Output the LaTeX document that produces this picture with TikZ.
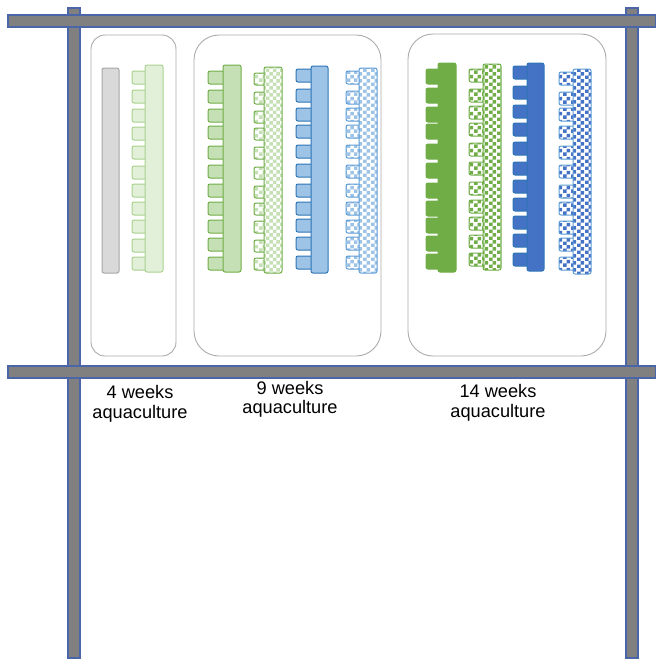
\documentclass[tikz,border=0pt]{standalone}
\usepackage{fontspec}
\setmainfont{Liberation Sans}
\usetikzlibrary{patterns}

% coarse checkerboard tile (3.7pt squares)
\pgfdeclarepatternformonly{bigchecker}{\pgfpointorigin}{\pgfqpoint{7.4pt}{7.4pt}}{\pgfqpoint{7.4pt}{7.4pt}}{%
  \pgfpathrectangle{\pgfpointorigin}{\pgfqpoint{3.7pt}{3.7pt}}%
  \pgfpathrectangle{\pgfqpoint{3.7pt}{3.7pt}}{\pgfqpoint{3.7pt}{3.7pt}}%
  \pgfusepath{fill}}

\definecolor{postfill}{HTML}{808080}
\definecolor{postline}{HTML}{4A66A8}
\definecolor{boxline}{HTML}{ABABAB}
\definecolor{greylight}{HTML}{D9D9D9}
\definecolor{greyline}{HTML}{A6A6A6}
\definecolor{grpale}{HTML}{E2F0D9}
\definecolor{grpaleline}{HTML}{A9D18E}
\definecolor{grmid}{HTML}{C5E0B4}
\definecolor{grdark}{HTML}{70AD47}
\definecolor{blmid}{HTML}{9DC3E6}
\definecolor{blline}{HTML}{2E75B6}
\definecolor{bllight}{HTML}{5B9BD5}
\definecolor{bldark}{HTML}{4472C4}

\tikzset{
  post/.style={fill=postfill, draw=postline, line width=1.4pt},
  group/.style={draw=boxline, line width=0.9pt},
  part/.style={rounded corners=2pt, line width=1pt},
  solidpart/.style={part, fill=#1},
  checkpart/.style={part, preaction={fill=white}, pattern=bigchecker, pattern color=#1},
  lab/.style={align=center, font=\fontsize{18.2}{19.5}\selectfont, inner sep=0pt},
}

% comb: #1 style, #2/#3 spine left/right, #4/#5 spine top/bottom,
% #6 tooth left edge, #7 tooth height, #8 tooth tops
\newcommand\drawcomb[8]{%
  \foreach \t in {#8} {\draw[#1] (#6,\t) rectangle (#2+4,\t+#7);}
  \draw[#1] (#2,#4) rectangle (#3,#5);
}

\begin{document}
\begin{tikzpicture}[x=1pt,y=-1pt]
\useasboundingbox (0,0) rectangle (656,659);

% frame: posts below, rails on top
\draw[post] (68,8) rectangle (80,658);
\draw[post] (626,8) rectangle (638,658);
\draw[post] (8,15) rectangle (656,27);
\draw[post] (8,366) rectangle (656,378);

% groups
\draw[group, rounded corners=14pt] (91,35) rectangle (176,356);
\draw[group, rounded corners=25pt] (194,35) rectangle (381,356);
\draw[group, rounded corners=25pt] (408,34) rectangle (606,356);

% 4 weeks
\draw[part, fill=greylight, draw=greyline] (102,68) rectangle (119,273);
\drawcomb{solidpart=grpale, draw=grpaleline}{145}{163}{65}{272}{132}{13}{71,90,109,127,146,166,184,202,220,239,257}

% 9 weeks
\drawcomb{solidpart=grmid, draw=grdark}{223}{241}{65}{272}{208}{13}{71,90,109,126,146,165,184,202,220,238,257}
\drawcomb{checkpart=grmid, draw=grdark}{264}{282}{67}{273}{254}{12}{73,92,111,128,147,167,186,203,221,240,258}
\drawcomb{solidpart=blmid, draw=blline}{311}{328}{66}{273}{296}{13}{69,89,108,125,145,164,184,202,219,237,256}
\drawcomb{checkpart=blmid, draw=bllight}{359}{377}{68}{273}{346}{13}{71,91,108,125,145,165,184,202,220,237,256}

% 14 weeks
\drawcomb{solidpart=grdark, draw=grdark}{438}{456}{63}{272}{426}{15}{69,88,107,124,144,163,183,201,218,236,254}
\drawcomb{checkpart=grdark, draw=grdark}{483}{501}{64}{270}{469}{13}{69,89,106,123,143,162,182,200,217,235,253}
\drawcomb{solidpart=bldark, draw=blline}{527}{544}{63}{271}{513}{13}{66,86,105,123,142,162,180,198,216,234,253}
\drawcomb{checkpart=bldark, draw=bllight}{573}{591}{69}{274}{559}{13}{72,92,108,126,146,165,185,202,221,238,257}

% labels
\node[lab] (w4) at (140,404) {4 weeks\\aquaculture};
\node[lab] (w9) at (290,399.5) {9 weeks\\aquaculture};
\node[lab] (w14) at (498,403) {14 weeks\\aquaculture};
\end{tikzpicture}
\end{document}
